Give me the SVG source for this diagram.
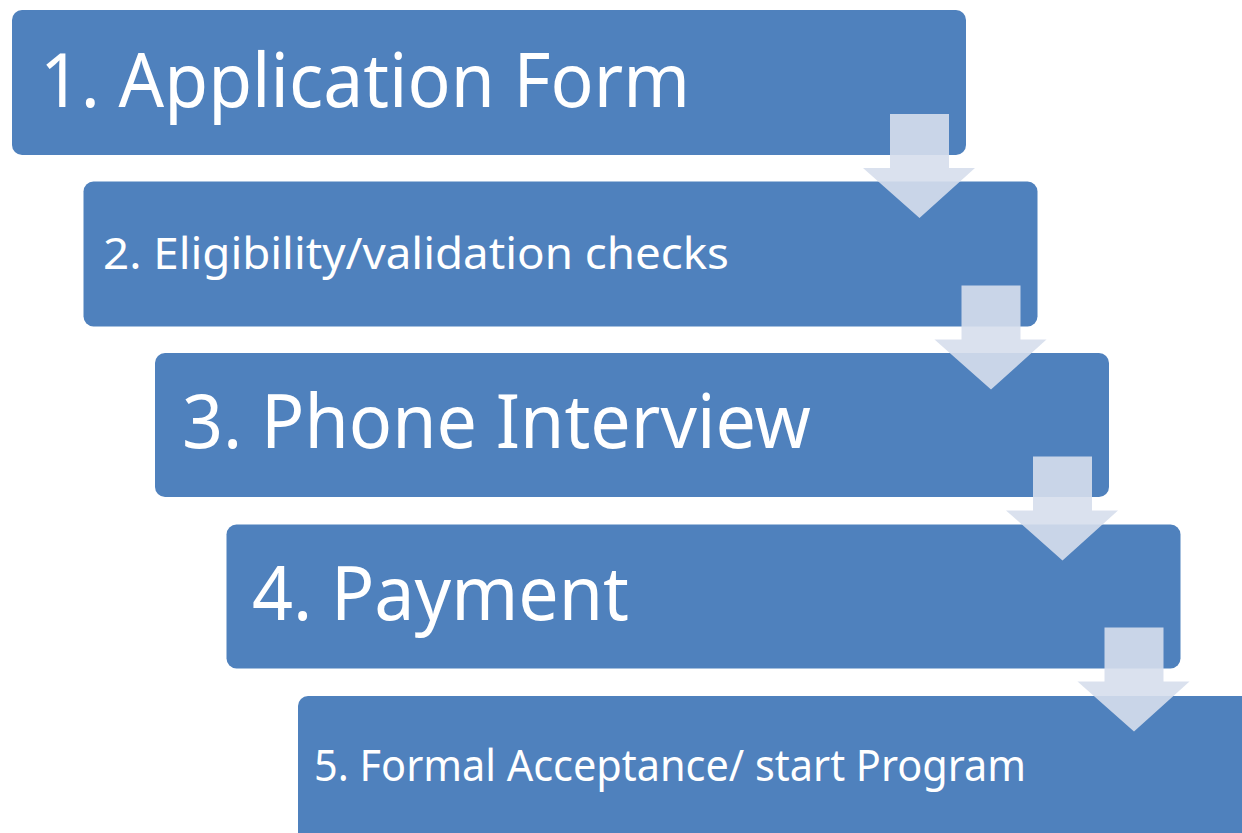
<svg xmlns="http://www.w3.org/2000/svg" width="1242" height="833" viewBox="0 0 1242 833">
  <style>
    .box { fill: #4f81bd; }
    .lbl { fill: #ffffff; font-family: "Noto Sans", "Open Sans", "Liberation Sans", sans-serif; }
    .big { font-size: 75px; }
    .small { font-size: 43px; }
    .arrow { fill: #d6deec; fill-opacity: 0.9; }
  </style>
  <defs>
    <path id="arr" d="M0,0 H59 V54 H85 L29.5,104 L-27,54 H0 Z"/>
  </defs>
  <rect width="1242" height="833" fill="#ffffff"/>
  <g id="node1">
    <rect class="box" x="12" y="10" width="954" height="145" rx="10"/>
    <text class="lbl big" x="40" y="107" textLength="650" lengthAdjust="spacingAndGlyphs">1. Application Form</text>
  </g>
  <g id="node2">
    <rect class="box" x="83.5" y="181.5" width="954" height="145" rx="10"/>
    <text class="lbl small" x="103" y="269" textLength="626" lengthAdjust="spacingAndGlyphs">2. Eligibility/validation checks</text>
  </g>
  <g id="node3">
    <rect class="box" x="155" y="353" width="954" height="144" rx="10"/>
    <text class="lbl big" x="182" y="448" textLength="629" lengthAdjust="spacingAndGlyphs">3. Phone Interview</text>
  </g>
  <g id="node4">
    <rect class="box" x="226.5" y="524.5" width="954" height="144" rx="10"/>
    <text class="lbl big" x="252" y="620" textLength="377" lengthAdjust="spacingAndGlyphs">4. Payment</text>
  </g>
  <g id="node5">
    <rect class="box" x="298" y="696" width="964" height="160" rx="10"/>
    <text class="lbl small" x="314" y="781" textLength="712" lengthAdjust="spacingAndGlyphs">5. Formal Acceptance/ start Program</text>
  </g>
  <g id="connectors">
    <use href="#arr" class="arrow" x="890" y="114"/>
    <use href="#arr" class="arrow" x="961.5" y="285.5"/>
    <use href="#arr" class="arrow" x="1033" y="456.5"/>
    <use href="#arr" class="arrow" x="1104.5" y="627.5"/>
  </g>
</svg>
